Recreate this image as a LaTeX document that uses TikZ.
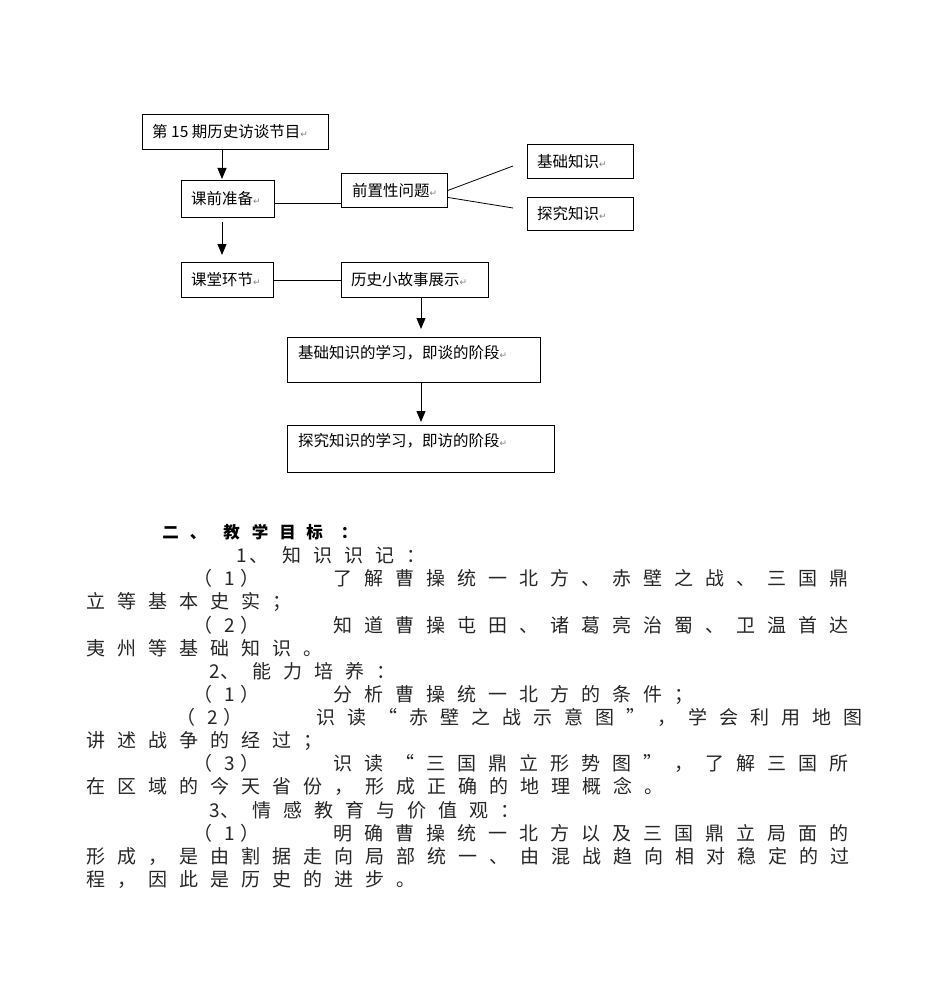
\documentclass[tikz,border=0pt]{standalone}
\usepackage{fontspec}
\setmainfont{Noto Sans CJK SC}
\newfontfamily\symfont{DejaVu Sans}
\usetikzlibrary{arrows.meta,calc}
\tikzset{
  box/.style={draw=black, line width=0.9pt, anchor=north west, inner sep=0pt},
  btxt/.style={anchor=west, inner sep=0pt, font=\fontsize{15.5}{18}\selectfont, text height=13.6pt, text depth=1.9pt},
  arr/.style={line width=0.9pt, -{Triangle[length=11pt,width=9pt]}},
  conn/.style={line width=0.8pt},
  ch/.style={inner sep=0pt, font=\fontsize{19}{22}\selectfont, text height=16.7pt, text depth=2.3pt, text=black!85},
  chb/.style={inner sep=0pt, font=\fontsize{16.5}{20}\selectfont\bfseries, text height=14.5pt, text depth=2pt, text=black},
}
\newcommand\pmark{{\symfont\fontsize{9}{9}\selectfont\color{black!50}↵}}
\newcommand\chrow[5]{\foreach \c [count=\i from 0] in {#5}{\node[#1] (r#2-\i) at ({#3+\i*31},#4) {\c};}}
\begin{document}
\begin{tikzpicture}[x=1pt,y=-1pt]
\useasboundingbox (0,0) rectangle (950,987);
% boxes
\node[box, minimum width=186, minimum height=35] (b1) at (142,114) {};
\node[box, minimum width=93, minimum height=37] (b2) at (181,180) {};
\node[box, minimum width=92, minimum height=35] (b3) at (181,262) {};
\node[box, minimum width=106, minimum height=34] (pre) at (341,173) {};
\node[box, minimum width=106, minimum height=34] (k1) at (527,144) {};
\node[box, minimum width=106, minimum height=33] (k2) at (527,197) {};
\node[box, minimum width=147, minimum height=35] (story) at (341,262) {};
\node[box, minimum width=253, minimum height=45] (s1) at (287,337) {};
\node[box, minimum width=267, minimum height=47] (s2) at (287,425) {};
% box texts
\node[btxt] (t1) at ($(b1.west)+(10,0)$) {第 15 期历史访谈节目\pmark};
\node[btxt] (t2) at ($(b2.west)+(10,0)$) {课前准备\pmark};
\node[btxt] (t3) at ($(b3.west)+(10,0)$) {课堂环节\pmark};
\node[btxt] (tpre) at ($(pre.west)+(11,0)$) {前置性问题\pmark};
\node[btxt] (tk1) at ($(k1.west)+(10,0)$) {基础知识\pmark};
\node[btxt] (tk2) at ($(k2.west)+(10,0)$) {探究知识\pmark};
\node[btxt] (tstory) at ($(story.west)+(10,0)$) {历史小故事展示\pmark};
\node[btxt] (ts1) at ($(s1.north west)+(11,16)$) {基础知识的学习，即谈的阶段\pmark};
\node[btxt] (ts2) at ($(s2.north west)+(11,15.5)$) {探究知识的学习，即访的阶段\pmark};
% connectors
\coordinate (ax) at (222,0);
\coordinate (bx) at (421,0);
\coordinate (ly) at (0,203);
\coordinate (e1) at (513,166);
\coordinate (e2) at (513,208);
\draw[arr, shorten >=1pt] (b1.south -| ax) -- (b2.north -| ax);
\draw[arr, shorten <=4pt, shorten >=7pt] (b2.south -| ax) -- (b3.north -| ax);
\draw[arr, shorten >=8pt] (story.south -| bx) -- (s1.north -| bx);
\draw[arr, shorten >=3pt] (s1.south -| bx) -- (s2.north -| bx);
\draw[conn] (b2.east |- ly) -- (pre.west |- ly);
\draw[conn] (b3.east) -- (story.west);
\draw[conn] (pre.east) -- (e1);
\draw[conn] ($(pre.east)+(0,7)$) -- (e2);
% paragraph
\node[chb] (h1) at (170.5,532) {二};
\node[chb] (h2) at (198,532) {、};
\node[chb] (h3) at (231.5,532) {教};
\node[chb] (h4) at (260,532) {学};
\node[chb] (h5) at (287.5,532) {目};
\node[chb] (h6) at (314.5,532) {标};
\node[chb] (h7) at (349,532) {：};
% L2
\node[ch] (n2a) at (242,555.5) {1};
\node[ch] (n2b) at (259,555.5) {、};
\chrow{ch}{2}{292}{555.5}{知,识,识,记,：}
% L3
\node[ch] (p3a) at (203,578.5) {（};
\node[ch] (p3b) at (230,578.5) {1};
\node[ch] (p3c) at (250,578.5) {）};
\chrow{ch}{3}{343}{578.5}{了,解,曹,操,统,一,北,方,、,赤,壁,之,战,、,三,国,鼎}
% L4
\chrow{ch}{4}{96}{601.7}{立,等,基,本,史,实,；}
% L5
\node[ch] (p5a) at (203,624.8) {（};
\node[ch] (p5b) at (230,624.8) {2};
\node[ch] (p5c) at (250,624.8) {）};
\chrow{ch}{5}{343}{624.8}{知,道,曹,操,屯,田,、,诸,葛,亮,治,蜀,、,卫,温,首,达}
% L6
\chrow{ch}{6}{96}{648}{夷,州,等,基,础,知,识,。}
% L7
\node[ch] (n7a) at (215,671) {2};
\node[ch] (n7b) at (229.5,671) {、};
\chrow{ch}{7}{262}{671}{能,力,培,养,：}
% L8
\node[ch] (p8a) at (203,694) {（};
\node[ch] (p8b) at (230,694) {1};
\node[ch] (p8c) at (250,694) {）};
\chrow{ch}{8}{343}{694}{分,析,曹,操,统,一,北,方,的,条,件,；}
% L9
\node[ch] (p9a) at (186,717.3) {（};
\node[ch] (p9b) at (213,717.3) {2};
\node[ch] (p9c) at (233,717.3) {）};
\chrow{ch}{9}{326}{717.3}{识,读,“,赤,壁,之,战,示,意,图,”,，,学,会,利,用,地,图}
% L10
\chrow{ch}{10}{96}{740.5}{讲,述,战,争,的,经,过,；}
% L11
\node[ch] (p11a) at (203,763.5) {（};
\node[ch] (p11b) at (230,763.5) {3};
\node[ch] (p11c) at (250,763.5) {）};
\chrow{ch}{11}{343}{763.5}{识,读,“,三,国,鼎,立,形,势,图,”,，,了,解,三,国,所}
% L12
\chrow{ch}{12}{96}{786.7}{在,区,域,的,今,天,省,份,，,形,成,正,确,的,地,理,概,念,。}
% L13
\node[ch] (n13a) at (215,809.8) {3};
\node[ch] (n13b) at (229.5,809.8) {、};
\chrow{ch}{13}{262}{809.8}{情,感,教,育,与,价,值,观,：}
% L14
\node[ch] (p14a) at (203,833) {（};
\node[ch] (p14b) at (230,833) {1};
\node[ch] (p14c) at (250,833) {）};
\chrow{ch}{14}{343}{833}{明,确,曹,操,统,一,北,方,以,及,三,国,鼎,立,局,面,的}
% L15
\chrow{ch}{15}{96}{856}{形,成,，,是,由,割,据,走,向,局,部,统,一,、,由,混,战,趋,向,相,对,稳,定,的,过}
% L16
\chrow{ch}{16}{96}{879.3}{程,，,因,此,是,历,史,的,进,步,。}
\end{tikzpicture}
\end{document}
